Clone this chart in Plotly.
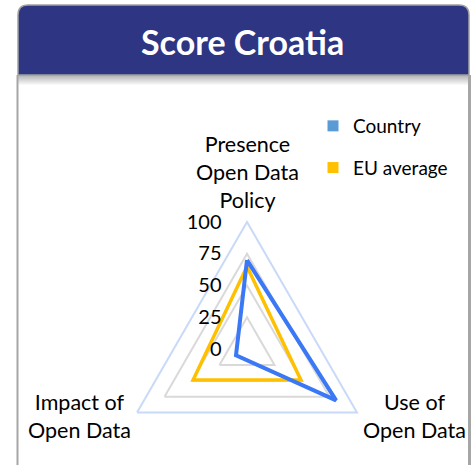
import plotly.graph_objects as go

# ---- data ----
categories = ["Presence Open Data Policy", "Use of Open Data", "Impact of Open Data"]
category_labels = ["Presence<br>Open Data<br>Policy", "Use of<br>Open Data", "Impact of<br>Open Data"]
country = [70, 81, 10]
eu_average = [65, 49, 49]
radial_ticks = [0, 25, 50, 75, 100]
title_text = "Score Croatia"

W, H = 475, 480
FONT = "Lato"


def px(x):
    return x / W


def py(y):
    return 1 - y / H


fig = go.Figure()

closed = lambda v: v + v[:1]
fig.add_trace(go.Scatterpolar(
    r=closed(eu_average), theta=closed(categories), mode="lines",
    line=dict(color="#FFC000", width=3.5), name="EU average", showlegend=False))
fig.add_trace(go.Scatterpolar(
    r=closed(country), theta=closed(categories), mode="lines",
    line=dict(color="#3A78F5", width=4), name="Country", showlegend=False))

# legend entries
fig.add_trace(go.Scatterpolar(
    r=[None], theta=[categories[0]], mode="markers", name="Country",
    marker=dict(symbol="square", size=11, color="#5B9BD5"), legendgroup="a"))
fig.add_trace(go.Scatterpolar(
    r=[None], theta=[categories[0]], mode="markers", name="EU average",
    marker=dict(symbol="square", size=11, color="#FFC000"), legendgroup="b"))

# ---- decorative frame ----
shapes = []
x0, x1, y0, y1, rr = 18, 469, 5, 75, 10
path = (f"M {px(x0)} {py(y1)} L {px(x0)} {py(y0 + rr)} "
        f"Q {px(x0)} {py(y0)} {px(x0 + rr)} {py(y0)} "
        f"L {px(x1 - rr)} {py(y0)} Q {px(x1)} {py(y0)} {px(x1)} {py(y0 + rr)} "
        f"L {px(x1)} {py(y1)} Z")
for i in range(10):
    a = 0.45 * (1 - i / 10)
    shapes.append(dict(type="rect", xref="paper", yref="paper",
                       x0=px(x0), x1=px(x1), y0=py(y1 + i + 1), y1=py(y1 + i),
                       fillcolor=f"rgba(90,90,90,{a:.3f})", line=dict(width=0), layer="below"))
shapes.append(dict(type="path", xref="paper", yref="paper", path=path,
                   fillcolor="#2E3582", line=dict(color="#A0A0A0", width=1.5), layer="below"))
shapes.append(dict(type="line", xref="paper", yref="paper",
                   x0=px(17.5), x1=px(17.5), y0=py(75), y1=py(H),
                   line=dict(color="#A6A6A6", width=2), layer="below"))
shapes.append(dict(type="line", xref="paper", yref="paper",
                   x0=px(469.5), x1=px(469.5), y0=py(75), y1=py(H),
                   line=dict(color="#A6A6A6", width=3), layer="below"))

annotations = [dict(text=f"<b>{title_text}</b>", x=px(243), y=py(41),
                    xref="paper", yref="paper", showarrow=False,
                    xanchor="center", yanchor="middle",
                    font=dict(family=FONT, size=34, color="white"))]
# category labels placed around the triangle
label_pos = [(247, 172), (414, 416), (79.5, 416)]
for lab, (lx, ly) in zip(category_labels, label_pos):
    annotations.append(dict(text=lab, x=px(lx), y=py(ly), xref="paper", yref="paper",
                            showarrow=False, xanchor="center", yanchor="middle",
                            align="center",
                            font=dict(family=FONT, size=21.5, color="black")))

cx, cy, R = 247, 349, 127
fig.update_layout(
    width=W, height=H,
    margin=dict(l=0, r=0, t=0, b=0),
    paper_bgcolor="white",
    font=dict(family=FONT, color="black"),
    shapes=shapes,
    annotations=annotations,
    polar=dict(
        domain=dict(x=[px(cx - R), px(cx + R)], y=[py(cy + R), py(cy - R)]),
        gridshape="linear",
        bgcolor="rgba(0,0,0,0)",
        angularaxis=dict(
            direction="clockwise", rotation=90,
            tickvals=categories, showticklabels=False,
            showgrid=False, showline=True, linecolor="#C9DAF8", linewidth=2,
            ticks=""),
        radialaxis=dict(
            range=[0, 100], tickvals=radial_ticks, angle=90, tickangle=90,
            side="counterclockwise", showline=False,
            gridcolor="#D9D9D9", gridwidth=2,
            ticks="outside", ticklen=18, tickcolor="rgba(0,0,0,0)",
            tickfont=dict(family=FONT, size=20, color="black")),
    ),
    legend=dict(x=px(313), y=py(107), xanchor="left", yanchor="top",
                font=dict(family=FONT, size=19, color="black"),
                traceorder="grouped", tracegroupgap=14,
                bgcolor="rgba(0,0,0,0)"),
)

fig.write_html("out.html", config={"displayModeBar": False}, post_script=(
    "document.body.style.margin='0';"
    "document.body.style.overflow='hidden';"
    "document.documentElement.style.overflow='hidden';"))
